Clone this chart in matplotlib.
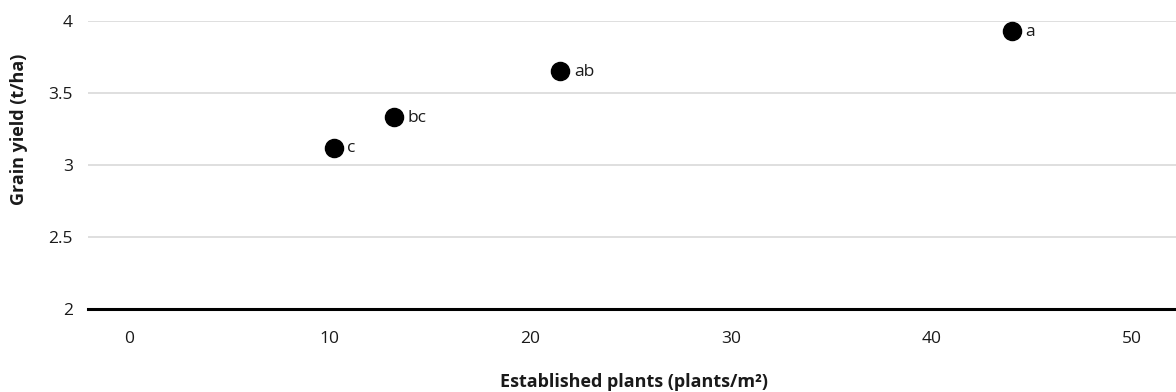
import matplotlib
matplotlib.use("Agg")
import matplotlib.pyplot as plt

plants = [10.2, 13.2, 21.5, 44.0]
yield_t = [3.12, 3.33, 3.65, 3.93]
letters = ["c", "bc", "ab", "a"]
xticks = [0, 10, 20, 30, 40, 50]
yticks = [2, 2.5, 3, 3.5, 4]

plt.rcParams['font.family'] = ['Open Sans', 'DejaVu Sans']

fig = plt.figure(figsize=(11.76, 3.92), dpi=100)
ax = fig.add_axes([88/1176, 1-309/392, 1-88/1176, (309-21)/392])
ax.set_xlim(-2.04, 52.2)
ax.set_ylim(2, 4)
ax.set_xticks(xticks)
ax.set_yticks(yticks)
ax.set_yticklabels([f"{v:g}" for v in yticks])
ax.grid(axis='y', color='#d9d9d9', linewidth=1.2)
ax.set_axisbelow(True)
for s in ['top', 'right', 'left']:
    ax.spines[s].set_visible(False)
ax.spines['bottom'].set_linewidth(2.2)
ax.spines['bottom'].set_color('black')
ax.tick_params(axis='both', length=0, labelsize=12.5, colors='#1a1a1a')
ax.tick_params(axis='x', pad=15.5)
ax.tick_params(axis='y', pad=11)

ax.scatter(plants, yield_t, s=170, color='black', zorder=3, clip_on=False)
for x, y, t in zip(plants, yield_t, letters):
    ax.annotate(t, (x, y), xytext=(10, -0.5), textcoords='offset points',
                va='center', ha='left', fontsize=12.5, color='#1a1a1a')

ax.set_xlabel('Established plants (plants/m²)', fontsize=13, fontweight='bold', color='#1a1a1a')
ax.set_ylabel('Grain yield (t/ha)', fontsize=13, fontweight='bold', color='#1a1a1a')
ax.xaxis.set_label_coords((634-88)/1088, (309-382)/288)
ax.yaxis.set_label_coords((19-88)/1088, (309-129)/288)
ax.xaxis.label.set_va('center')
ax.yaxis.label.set_va('center')

fig.savefig('out.png', dpi=100)
